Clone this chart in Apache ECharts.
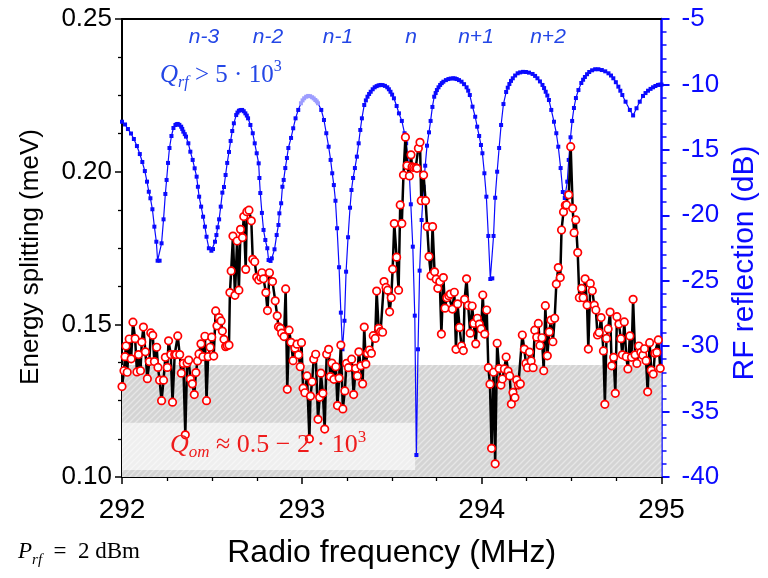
<!DOCTYPE html>
<html><head><meta charset="utf-8">
<script src="https://cdn.jsdelivr.net/npm/echarts/dist/echarts.min.js"></script>
<style>html,body{margin:0;padding:0;background:#fff}#c{width:768px;height:578px}</style>
</head><body><div id="c"></div>
<script>
// ---- Energy splitting (left axis, meV) ----
const esFreq = [
292.000,292.011,292.017,292.022,292.029,292.040,292.051,292.061,292.073,292.083,
292.092,292.103,292.110,292.119,292.130,292.141,292.152,292.160,292.171,292.180,
292.193,292.200,292.209,292.220,292.231,292.241,292.252,292.259,292.271,292.281,
292.293,292.301,292.310,292.321,292.330,292.341,292.352,292.362,292.371,292.380,
292.391,292.402,292.411,292.420,292.428,292.439,292.450,292.461,292.470,292.479,
292.490,292.499,292.510,292.521,292.528,292.540,292.551,292.558,292.567,292.576,
292.585,292.595,292.600,292.607,292.617,292.628,292.640,292.650,292.659,292.670,
292.677,292.688,292.694,292.706,292.719,292.727,292.738,292.749,292.760,292.772,
292.778,292.787,292.800,292.809,292.820,292.837,292.852,292.863,292.870,292.881,
292.888,292.901,292.910,292.919,292.929,292.940,292.951,292.962,292.973,292.982,
292.991,292.998,293.007,293.017,293.029,293.042,293.048,293.057,293.066,293.077,
293.090,293.099,293.106,293.117,293.127,293.138,293.149,293.158,293.167,293.178,
293.189,293.198,293.207,293.217,293.228,293.239,293.248,293.259,293.277,293.288,
293.299,293.309,293.317,293.328,293.338,293.347,293.356,293.365,293.376,293.387,
293.397,293.408,293.416,293.427,293.438,293.449,293.457,293.468,293.477,293.488,
293.497,293.505,293.514,293.527,293.538,293.547,293.556,293.565,293.576,293.585,
293.598,293.607,293.613,293.622,293.633,293.640,293.648,293.657,293.664,293.677,
293.688,293.697,293.707,293.718,293.727,293.738,293.747,293.756,293.767,293.776,
293.787,293.796,293.806,293.817,293.826,293.837,293.848,293.857,293.866,293.877,
293.888,293.898,293.905,293.916,293.925,293.936,293.947,293.956,293.967,293.976,
293.987,293.997,294.006,294.017,294.028,294.037,294.046,294.055,294.066,294.075,
294.086,294.097,294.107,294.115,294.126,294.136,294.147,294.156,294.165,294.174,
294.185,294.195,294.204,294.215,294.226,294.237,294.246,294.255,294.266,294.275,
294.286,294.295,294.306,294.315,294.324,294.335,294.345,294.354,294.365,294.376,
294.385,294.396,294.406,294.415,294.426,294.437,294.444,294.455,294.465,294.472,
294.484,294.495,294.506,294.514,294.523,294.534,294.543,294.556,294.564,294.575,
294.586,294.593,294.604,294.615,294.626,294.635,294.644,294.653,294.664,294.677,
294.685,294.694,294.703,294.714,294.723,294.734,294.743,294.752,294.763,294.774,
294.782,294.793,294.804,294.813,294.824,294.833,294.842,294.853,294.863,294.874,
294.885,294.896,294.905,294.914,294.923,294.934,294.943,294.954,294.963,294.974,
294.982,294.993
];
const esVal = [
0.1296,0.1348,0.1394,0.1429,0.1343,0.1452,0.1387,0.1507,0.1453,0.1344,
0.1401,0.1348,0.1442,0.1491,0.1410,0.1322,0.1378,0.1472,0.1464,0.1378,
0.1425,0.1359,0.1317,0.1250,0.1317,0.1392,0.1359,0.1446,0.1401,0.1245,
0.1401,0.1401,0.1462,0.1401,0.1340,0.1372,0.1138,0.1373,0.1383,0.1321,
0.1305,0.1270,0.1342,0.1380,0.1403,0.1436,0.1394,0.1461,0.1250,0.1394,
0.1425,0.1458,0.1396,0.1544,0.1495,0.1522,0.1511,0.1478,0.1451,0.1427,
0.1430,0.1432,0.1604,0.1675,0.1789,0.1595,0.1773,0.1612,0.1811,0.1784,
0.1853,0.1680,0.1869,0.1874,0.1839,0.1713,0.1705,0.1654,0.1645,0.1654,
0.1669,0.1649,0.1604,0.1545,0.1669,0.1640,0.1577,0.1528,0.1492,0.1487,
0.1471,0.1460,0.1616,0.1287,0.1481,0.1441,0.1381,0.1422,0.1435,0.1400,
0.1361,0.1440,0.1291,0.1276,0.1331,0.1125,0.1265,0.1312,0.1386,0.1402,
0.1189,0.1261,0.1340,0.1274,0.1157,0.1402,0.1418,0.1329,0.1373,0.1320,
0.1361,0.1234,0.1324,0.1432,0.1223,0.1282,0.1372,0.1358,0.1386,0.1270,
0.1356,0.1331,0.1410,0.1364,0.1305,0.1491,0.1370,0.1405,0.1416,0.1405,
0.1463,0.1454,0.1609,0.1487,0.1476,0.1474,0.1640,0.1621,0.1612,0.1541,
0.1587,0.1681,0.1830,0.1720,0.1612,0.1891,0.1830,0.1989,0.2113,0.2020,
0.1986,0.2055,0.2016,0.2014,0.2013,0.2011,0.2077,0.2096,0.1905,0.1989,
0.1905,0.1820,0.1722,0.1659,0.1820,0.1672,0.1648,0.1618,0.1640,0.1468,
0.1653,0.1553,0.1587,0.1594,0.1599,0.1550,0.1605,0.1418,0.1567,0.1490,
0.1429,0.1414,0.1582,0.1649,0.1562,0.1471,0.1560,0.1503,0.1436,0.1520,
0.1501,0.1485,0.1596,0.1468,0.1547,0.1358,0.1304,0.1094,0.1343,0.1043,
0.1438,0.1355,0.1301,0.1321,0.1354,0.1393,0.1347,0.1331,0.1239,0.1277,
0.1260,0.1318,0.1301,0.1305,0.1465,0.1419,0.1372,0.1358,0.1409,0.1380,
0.1358,0.1481,0.1458,0.1503,0.1431,0.1456,0.1348,0.1561,0.1397,0.1475,
0.1514,0.1443,0.1520,0.1632,0.1686,0.1653,0.1809,0.1868,0.1890,0.1891,
0.1924,0.2082,0.1880,0.1800,0.1842,0.1735,0.1587,0.1618,0.1587,0.1649,
0.1563,0.1419,0.1634,0.1610,0.1563,0.1547,0.1465,0.1473,0.1522,0.1413,
0.1238,0.1454,0.1485,0.1540,0.1364,0.1392,0.1274,0.1525,0.1501,0.1453,
0.1400,0.1508,0.1394,0.1354,0.1462,0.1392,0.1582,0.1400,0.1372,0.1429,
0.1408,0.1399,0.1420,0.1381,0.1279,0.1440,0.1350,0.1337,0.1405,0.1408,
0.1449,0.1356
];
// ---- RF reflection (right axis, dB) ----
const rfFreq = [
292.000,292.017,292.033,292.050,292.066,292.083,292.099,292.113,292.127,292.139,
292.149,292.158,292.169,292.180,292.191,292.198,292.209,292.220,292.231,292.241,
292.248,292.256,292.264,292.275,292.286,292.297,292.310,292.329,292.341,292.356,
292.369,292.380,292.393,292.404,292.415,292.422,292.429,292.440,292.451,292.461,
292.470,292.483,292.497,292.506,292.517,292.525,292.532,292.540,292.549,292.558,
292.567,292.576,292.585,292.595,292.604,292.613,292.622,292.635,292.650,292.668,
292.686,292.701,292.714,292.727,292.738,292.749,292.760,292.764,292.769,292.778,
292.787,292.797,292.808,292.815,292.826,292.833,292.848,292.860,292.870,292.875,
292.885,292.892,292.899,292.908,292.917,292.925,292.940,292.952,292.965,292.980,
292.995,293.013,293.035,293.057,293.075,293.090,293.108,293.123,293.136,293.149,
293.160,293.169,293.178,293.187,293.196,293.207,293.217,293.226,293.237,293.246,
293.257,293.268,293.276,293.285,293.295,293.306,293.316,293.325,293.334,293.347,
293.365,293.383,293.405,293.438,293.475,293.493,293.512,293.527,293.540,293.556,
293.571,293.580,293.589,293.598,293.606,293.617,293.628,293.637,293.646,293.655,
293.666,293.677,293.686,293.696,293.707,293.716,293.726,293.736,293.751,293.769,
293.787,293.815,293.842,293.861,293.888,293.916,293.934,293.949,293.964,293.975,
293.986,293.996,294.004,294.015,294.026,294.037,294.048,294.059,294.066,294.075,
294.086,294.097,294.108,294.121,294.136,294.154,294.173,294.200,294.246,294.283,
294.310,294.338,294.356,294.374,294.387,294.402,294.415,294.426,294.439,294.451,
294.462,294.476,294.484,294.494,294.503,294.513,294.524,294.538,294.554,294.574,
294.598,294.631,294.668,294.705,294.732,294.760,294.782,294.800,294.824,294.842,
294.861,294.879,294.897,294.925,294.953,294.980,295.000
];
const rfDb = [
-12.85,-13.06,-13.41,-13.75,-14.17,-14.71,-15.32,-15.93,-16.62,-17.43,
-18.20,-18.70,-19.54,-20.87,-22.02,-23.47,-23.47,-22.14,-20.31,-18.37,
-17.30,-16.00,-14.86,-13.94,-13.33,-13.10,-13.02,-13.23,-13.61,-13.99,
-14.50,-15.14,-15.77,-16.41,-17.05,-17.82,-18.58,-19.34,-20.11,-20.87,
-21.64,-22.52,-22.71,-22.58,-22.02,-21.51,-20.92,-20.31,-19.34,-18.27,
-17.84,-16.92,-16.00,-15.16,-14.32,-13.56,-12.97,-12.34,-12.01,-11.95,
-12.21,-12.59,-13.10,-13.73,-14.50,-15.26,-16.03,-17.15,-18.30,-19.82,
-21.12,-21.89,-22.52,-23.42,-23.49,-23.29,-22.60,-21.51,-20.74,-19.85,
-19.08,-17.82,-17.30,-16.39,-15.62,-14.86,-14.09,-13.35,-12.59,-11.95,
-11.44,-11.06,-10.88,-10.98,-11.19,-11.44,-11.95,-12.72,-13.73,-14.76,
-15.77,-16.79,-17.69,-18.89,-20.99,-23.97,-27.44,-30.24,-28.06,-24.31,
-21.68,-19.42,-18.07,-17.15,-16.39,-15.52,-14.50,-13.48,-12.59,-11.57,
-10.94,-10.56,-10.22,-10.04,-10.22,-10.56,-11.06,-11.65,-12.21,-12.79,
-13.73,-14.50,-15.52,-16.92,-19.16,-22.40,-27.67,-38.32,-30.24,-24.23,
-20.36,-17.82,-16.21,-14.68,-13.66,-12.79,-11.72,-10.94,-10.43,-10.04,
-9.79,-9.59,-9.53,-9.59,-9.79,-10.22,-10.81,-11.70,-12.47,-13.23,
-13.94,-14.63,-15.26,-16.79,-18.58,-21.58,-24.87,-24.82,-21.58,-18.66,
-16.67,-14.86,-13.10,-11.50,-10.58,-9.97,-9.53,-9.15,-9.05,-9.20,
-9.53,-10.04,-10.56,-11.19,-11.95,-12.85,-13.73,-14.76,-16.39,-18.22,
-18.68,-17.43,-15.77,-14.04,-12.79,-11.80,-11.04,-10.43,-9.89,-9.43,
-9.05,-8.84,-8.90,-9.15,-9.53,-10.17,-10.81,-11.32,-11.95,-12.37,
-11.82,-11.32,-10.88,-10.48,-10.22,-10.04,-10.01
];
// extra samples read along the (densely sampled) resonance maxima
const rfPeakFreq = [
292.304,292.319,292.335,292.349,
292.642,292.659,292.677,292.694,
293.004,293.024,293.046,293.066,293.083,
293.356,293.374,293.394,293.416,293.427,293.449,293.462,293.484,293.502,
293.744,293.760,293.778,293.801,293.828,293.852,293.874,293.902,293.925,
294.145,294.163,294.186,294.214,294.230,294.263,294.297,294.324,294.347,294.365,
294.564,294.586,294.614,294.649,294.687,294.719,294.746,294.771,
294.911,294.939,294.966,294.990
];
const rfPeakDb = [
-13.04,-13.09,-13.40,-13.80,
-12.15,-11.96,-12.05,-12.38,
-11.22,-10.94,-10.90,-11.07,-11.30,
-11.22,-10.73,-10.37,-10.13,-10.07,-10.05,-10.11,-10.37,-10.78,
-10.66,-10.22,-9.90,-9.67,-9.55,-9.55,-9.67,-9.98,-10.48,
-10.25,-9.73,-9.32,-9.08,-9.04,-9.10,-9.35,-9.77,-10.28,-10.85,
-9.64,-9.22,-8.92,-8.84,-9.00,-9.32,-9.83,-10.48,
-10.66,-10.34,-10.12,-10.02
];
const rfHighlightRange = [292.99, 293.10];  // lighter-blue stretch on the n-1 maximum
const modeLabels = ['n-3','n-2','n-1','n','n+1','n+2'];
const xRange = [292, 295];
const leftRange = [0.10, 0.25];
const rightRange = [-40, -5];
const grayBand = [0.10, 0.1367];          // hatched Q_om band (meV)
const lightBox = {x:[292, 293.63], y:[0.1023, 0.1178]};

const BLUE = '#0a0aff';
const TXTBLUE = '#2447e6';
const SANS = '"Liberation Sans", Arial, sans-serif';
const SERIF = '"Liberation Serif", "DejaVu Serif", serif';

function hatch(bg, line, size){
  const c = document.createElement('canvas');
  c.width = c.height = size;
  const g = c.getContext('2d');
  g.fillStyle = bg; g.fillRect(0,0,size,size);
  g.strokeStyle = line; g.lineWidth = 1.3;
  g.beginPath();
  g.moveTo(-1, size+1); g.lineTo(size+1, -1);
  g.moveTo(-1, 1); g.lineTo(1, -1);
  g.moveTo(size-1, size+1); g.lineTo(size+1, size-1);
  g.stroke();
  return c;
}

const chart = echarts.init(document.getElementById('c'), null, {renderer:'canvas'});

const esData = esFreq.map((f,i)=>[f, esVal[i]]);
const rfAll = rfFreq.map((f,i)=>[f, rfDb[i]])
  .concat(rfPeakFreq.map((f,i)=>[f, rfPeakDb[i]]))
  .sort((a,b)=>a[0]-b[0]);
const rfData = rfAll.map(p=>{
  if (p[0] >= rfHighlightRange[0] && p[0] <= rfHighlightRange[1])
    return {value:p, itemStyle:{color:'#9d9dff'}};
  return p;
});

const option = {
  animation: false,
  grid: {left:122, right:101, top:19, bottom:101},
  xAxis: [{
    type:'value', min:xRange[0], max:xRange[1], interval:1, position:'bottom',
    axisLine:{lineStyle:{color:'#000', width:2}},
    axisTick:{length:7, lineStyle:{color:'#000', width:1.5}},
    minorTick:{show:true, splitNumber:4, length:4, lineStyle:{color:'#000', width:1.3}},
    axisLabel:{fontSize:28, color:'#000', margin:19, fontFamily:SANS},
    splitLine:{show:false},
    name:'Radio frequency (MHz)', nameLocation:'middle', nameGap:60,
    nameTextStyle:{fontSize:32, color:'#000', fontFamily:SANS}
  },{
    type:'value', min:xRange[0], max:xRange[1], position:'top',
    axisLine:{lineStyle:{color:'#000', width:2}},
    axisTick:{show:false}, axisLabel:{show:false}, splitLine:{show:false}
  }],
  yAxis: [{
    type:'value', min:leftRange[0], max:leftRange[1], interval:0.05, position:'left',
    axisLine:{show:true, lineStyle:{color:'#000', width:2}},
    axisTick:{show:true, length:7, lineStyle:{color:'#000', width:1.5}},
    minorTick:{show:true, splitNumber:4, length:4, lineStyle:{color:'#000', width:1.3}},
    axisLabel:{fontSize:26, color:'#000', margin:10, fontFamily:SANS, formatter:v=>v.toFixed(2)},
    splitLine:{show:false},
    name:'Energy splitting (meV)', nameLocation:'middle', nameRotate:90, nameGap:78,
    nameTextStyle:{fontSize:26, color:'#000', fontFamily:SANS, padding:[0,18,0,0]}
  },{
    type:'value', min:rightRange[0], max:rightRange[1], interval:5, position:'right',
    axisLine:{show:true, lineStyle:{color:BLUE, width:2.5}},
    axisTick:{show:true, length:8, lineStyle:{color:BLUE, width:2}},
    minorTick:{show:true, splitNumber:5, length:5, lineStyle:{color:BLUE, width:1.5}},
    axisLabel:{fontSize:26, color:BLUE, margin:20, fontFamily:SANS},
    splitLine:{show:false},
    name:'RF reflection (dB)', nameLocation:'middle', nameRotate:90, nameGap:62,
    nameTextStyle:{fontSize:30, color:BLUE, fontFamily:SANS, padding:[0,30,0,0]}
  }],
  series: [{
    type:'line', xAxisIndex:0, yAxisIndex:0, z:1, data:[[xRange[0], grayBand[0]]],
    symbol:'none', lineStyle:{width:0}, silent:true,
    markArea:{silent:true, label:{show:false},
      itemStyle:{color:{image:hatch('#d4d4d4','#e6e6e6',6), repeat:'repeat'}, opacity:1, borderWidth:0},
      data:[[{coord:[xRange[0], grayBand[0]]},{coord:[xRange[1], grayBand[1]]}]]}
  },{
    type:'line', xAxisIndex:0, yAxisIndex:1, z:2, data:rfData,
    symbol:'rect', symbolSize:4, showAllSymbol:true,
    lineStyle:{color:BLUE, width:1.2}, itemStyle:{color:BLUE}
  },{
    type:'line', xAxisIndex:0, yAxisIndex:0, z:3, data:esData,
    symbol:'circle', symbolSize:7.5, showAllSymbol:true,
    lineStyle:{color:'#000', width:2.5},
    itemStyle:{color:'#fff', borderColor:'#ff0000', borderWidth:1.7}
  },{
    type:'line', xAxisIndex:0, yAxisIndex:0, z:4, data:[[xRange[0], grayBand[0]]],
    symbol:'none', lineStyle:{width:0}, silent:true,
    markArea:{silent:true, label:{show:false},
      itemStyle:{color:'rgba(255,255,255,0.62)', opacity:1, borderWidth:0},
      data:[[{coord:[lightBox.x[0], lightBox.y[0]]},{coord:[lightBox.x[1], lightBox.y[1]]}]]}
  }]
};
chart.setOption(option);

// annotations
const labelPos = [[204,37],[268,37],[338,37],[411,37],[476,37],[548,37]];
const g = modeLabels.map((t,i)=>({
  type:'text', z:100, x:labelPos[i][0], y:labelPos[i][1],
  style:{text:t, fontSize:21, fontStyle:'italic', fontFamily:SANS, fill:TXTBLUE, align:'center', verticalAlign:'middle'}
}));
function mathRich(col, big, small){
  return {
    q:{fontFamily:SERIF, fontStyle:'italic', fontSize:big, lineHeight:32, verticalAlign:'middle', fill:col},
    s:{fontFamily:SERIF, fontStyle:'italic', fontSize:small, lineHeight:small, verticalAlign:'bottom', fill:col},
    t:{fontFamily:SERIF, fontSize:big, lineHeight:32, verticalAlign:'middle', fill:col},
    p:{fontFamily:SERIF, fontSize:small, lineHeight:small, verticalAlign:'top', fill:col}
  };
}
g.push({type:'text', z:100, x:160, y:75,
  style:{text:'{q|Q}{s|rf}{t| > 5 · 10}{p|3}', rich:mathRich(TXTBLUE,25,16), verticalAlign:'middle', align:'left'}});
g.push({type:'text', z:100, x:170, y:445,
  style:{text:'{q|Q}{s|om}{t| ≈ 0.5 − 2 · 10}{p|3}', rich:mathRich('#ee1c1c',26,17), verticalAlign:'middle', align:'left'}});
g.push({type:'text', z:100, x:18, y:552,
  style:{text:'{q|P}{s|rf}{t|  =  2 dBm}', rich:mathRich('#000',23,15), verticalAlign:'middle', align:'left'}});
chart.setOption({graphic:g});
</script>
</body></html>
